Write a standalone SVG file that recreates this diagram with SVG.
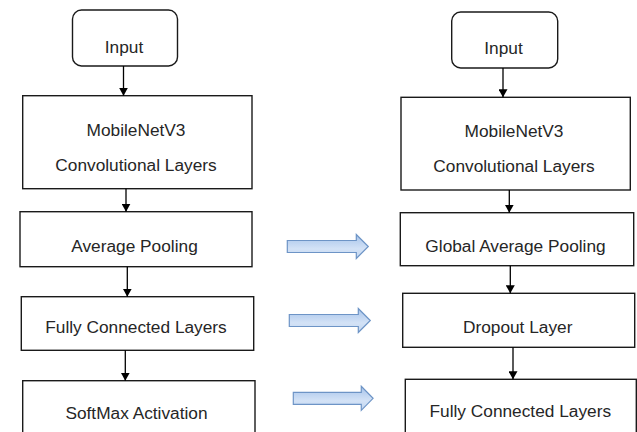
<svg xmlns="http://www.w3.org/2000/svg" width="637" height="432" viewBox="0 0 637 432">
  <style>
    .box { fill: #ffffff; stroke: #1a1a1a; stroke-width: 1.4; }
    .lbl { font-family: "Liberation Sans", Arial, sans-serif; font-size: 17.3px; fill: #262626; text-anchor: middle; }
    .edge { stroke: #000000; stroke-width: 1.3; fill: none; marker-end: url(#tip); }
    .block { fill: url(#blockFill); stroke: #6d94c6; stroke-width: 1.2; }
  </style>
  <defs>
    <marker id="tip" viewBox="0 0 8 9" refX="8" refY="4.5" markerWidth="8" markerHeight="9" markerUnits="userSpaceOnUse" orient="auto">
      <path d="M0,0 L8,4.5 L0,9 Z" fill="#000000"/>
    </marker>
    <linearGradient id="blockFill" x1="0" y1="0" x2="0" y2="1">
      <stop offset="0" stop-color="#a6c3ea"/>
      <stop offset="0.6" stop-color="#d3e2f6"/>
      <stop offset="1" stop-color="#c2d6f0"/>
    </linearGradient>
    <path id="blockArrow" d="M0,-6 H69 V-12 L81,0 L69,12 V6 H0 Z"/>
  </defs>

  <rect width="637" height="432" fill="#ffffff"/>

  <!-- left pipeline -->
  <g id="input-left">
    <rect class="box" x="72.5" y="10" width="105" height="56" rx="9"/>
    <text class="lbl" x="124" y="53.3">Input</text>
  </g>
  <g id="conv-left">
    <rect class="box" x="22.7" y="95.7" width="229.3" height="93"/>
    <text class="lbl" x="136" y="136">MobileNetV3</text>
    <text class="lbl" x="136" y="170.7">Convolutional Layers</text>
  </g>
  <g id="avgpool-left">
    <rect class="box" x="20" y="211.7" width="232" height="55"/>
    <text class="lbl" x="134.5" y="251.7">Average Pooling</text>
  </g>
  <g id="fc-left">
    <rect class="box" x="21.3" y="296.7" width="232.4" height="53.6"/>
    <text class="lbl" x="136" y="333.3">Fully Connected Layers</text>
  </g>
  <g id="softmax-left">
    <rect class="box" x="22.7" y="380.7" width="232.3" height="60"/>
    <text class="lbl" x="136.5" y="419.3">SoftMax Activation</text>
  </g>

  <!-- right pipeline -->
  <g id="input-right">
    <rect class="box" x="451.7" y="12" width="106" height="56" rx="9"/>
    <text class="lbl" x="503.5" y="54.3">Input</text>
  </g>
  <g id="conv-right">
    <rect class="box" x="401" y="97.3" width="229.3" height="92.7"/>
    <text class="lbl" x="514" y="137.3">MobileNetV3</text>
    <text class="lbl" x="514" y="171.7">Convolutional Layers</text>
  </g>
  <g id="gap-right">
    <rect class="box" x="400.3" y="212.7" width="233.4" height="53"/>
    <text class="lbl" x="515.5" y="251.7">Global Average Pooling</text>
  </g>
  <g id="dropout-right">
    <rect class="box" x="402.7" y="293.3" width="232" height="54"/>
    <text class="lbl" x="517.7" y="332.7">Dropout Layer</text>
  </g>
  <g id="fc-right">
    <rect class="box" x="405.3" y="379.3" width="231" height="60"/>
    <text class="lbl" x="520.3" y="417.3">Fully Connected Layers</text>
  </g>

  <!-- connectors -->
  <g id="connectors">
    <line class="edge" x1="123.5" y1="66" x2="123.5" y2="95.7"/>
    <line class="edge" x1="126" y1="188.7" x2="126" y2="211.7"/>
    <line class="edge" x1="127.3" y1="266.7" x2="127.3" y2="296.7"/>
    <line class="edge" x1="125.3" y1="350.3" x2="125.3" y2="380.7"/>

    <line class="edge" x1="503" y1="68" x2="503" y2="97.3"/>
    <line class="edge" x1="509.3" y1="190" x2="509.3" y2="212.7"/>
    <line class="edge" x1="510.3" y1="265.7" x2="510.3" y2="293.3"/>
    <line class="edge" x1="513" y1="347.3" x2="513" y2="379.3"/>

    <use class="block" href="#blockArrow" transform="translate(287.3,246.5)"/>
    <use class="block" href="#blockArrow" transform="translate(289.3,320.5)"/>
    <use class="block" href="#blockArrow" transform="translate(293.3,398.3) scale(0.985,1)"/>
  </g>
</svg>
